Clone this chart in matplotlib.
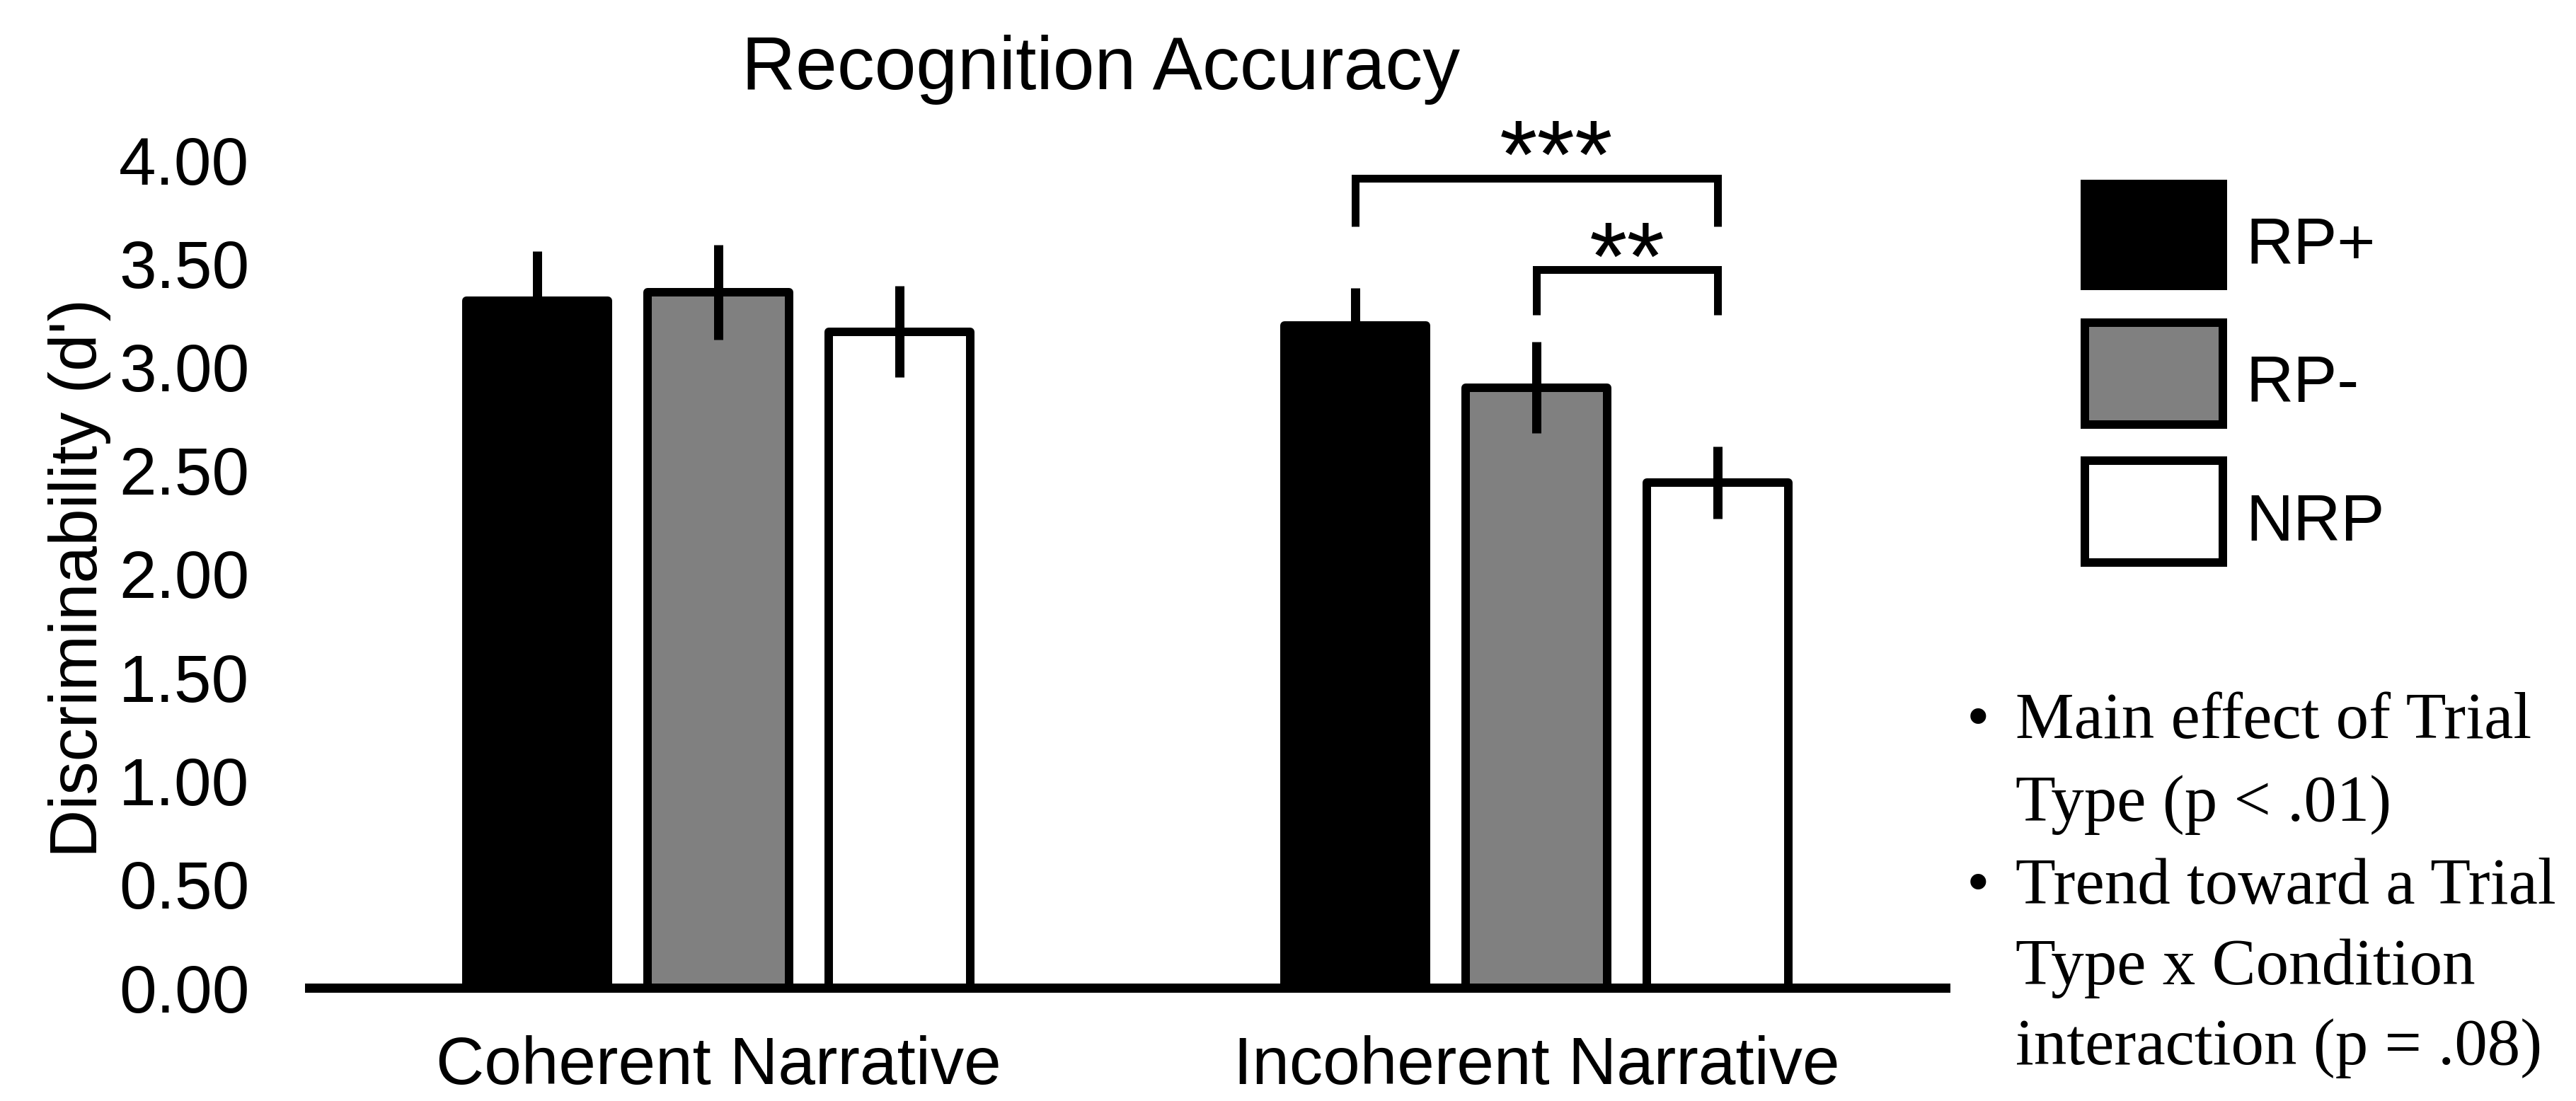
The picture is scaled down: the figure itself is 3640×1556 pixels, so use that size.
import matplotlib
matplotlib.use("Agg")
import matplotlib.pyplot as plt
import numpy as np

# ---------------- data ----------------
categories = ["Coherent Narrative", "Incoherent Narrative"]
series_names = ["RP+", "RP-", "NRP"]
rp_plus = [3.32, 3.20]
rp_minus = [3.36, 2.90]
nrp = [3.17, 2.44]
rp_plus_err = [0.24, 0.18]
rp_minus_err = [0.23, 0.22]
nrp_err = [0.22, 0.175]
series_colors = ["#000000", "#808080", "#ffffff"]

yticks = [0.0, 0.5, 1.0, 1.5, 2.0, 2.5, 3.0, 3.5, 4.0]
ytick_labels = ["0.00", "0.50", "1.00", "1.50", "2.00", "2.50", "3.00", "3.50", "4.00"]

title = "Recognition Accuracy"
ylabel = "Discriminability (d')"

# significance brackets (within the Incoherent group): series index pairs
sig_group = 1
sig_pairs = [(0, 2), (1, 2)]
sig_labels = ["***", "**"]
sig_tops = [3.91, 3.47]
sig_leg_bottoms = [3.68, 3.25]

notes_lines = [
    ("\u2022", "Main effect of Trial"),
    ("", "Type (p < .01)"),
    ("\u2022", "Trend toward a Trial"),
    ("", "Type x Condition"),
    ("", "interaction (p = .08)"),
]

# ---------------- figure ----------------
W, H, DPI = 3641, 1556, 100
fig = plt.figure(figsize=(W / DPI, H / DPI), dpi=DPI)
px2pt = 72.0 / DPI


def fx(px):
    return px / W


def fy(px):
    return 1 - px / H


ax = fig.add_axes([fx(437), fy(1396), fx(2749) - fx(437), fy(226) - fy(1396)])

sans = "Liberation Sans"
serif = "Liberation Serif"

x = np.arange(len(categories))
offsets = [-0.2215, 0.0, 0.2215]
bar_w = 0.173
edge_lw = 12 * px2pt

values = [rp_plus, rp_minus, nrp]
errors = [rp_plus_err, rp_minus_err, nrp_err]
handles = []
for i, (vals, errs, col) in enumerate(zip(values, errors, series_colors)):
    bc = ax.bar(x + offsets[i], vals, width=bar_w, color=col, edgecolor="black",
                linewidth=edge_lw, joinstyle="round", zorder=2, label=series_names[i])
    handles.append(bc)
    eb = ax.errorbar(x + offsets[i], vals, yerr=errs, fmt="none", ecolor="black",
                     elinewidth=13 * px2pt, capsize=0, zorder=3)
    for lc in eb.lines[2]:
        lc.set_capstyle("butt")

ax.set_xlim(-0.5, 1.5)
ax.set_ylim(0, 4.0)
ax.set_yticks(yticks)
ax.set_yticklabels(ytick_labels, fontsize=68, family=sans)
ax.set_xticks(x)
ax.set_xticklabels(categories, fontsize=68, family=sans)
ax.tick_params(axis="y", length=0, pad=61)
ax.tick_params(axis="x", length=0, pad=48)
for s in ["left", "top", "right"]:
    ax.spines[s].set_visible(False)
ax.spines["bottom"].set_linewidth(13 * px2pt)
ax.spines["bottom"].set_zorder(4)

# significance brackets
for (a, b), lab, top, bot in zip(sig_pairs, sig_labels, sig_tops, sig_leg_bottoms):
    xa = x[sig_group] + offsets[a]
    xb = x[sig_group] + offsets[b]
    ax.plot([xa, xa, xb, xb], [bot, top, top, bot], color="black", lw=11 * px2pt,
            solid_joinstyle="miter", solid_capstyle="butt", clip_on=False, zorder=5)
    shift = 0.024 if len(lab) == 3 else 0.0
    drop = 0.045 if len(lab) == 3 else 0.097
    ax.text((xa + xb) / 2 + shift, top - drop, lab,
            ha="center", va="baseline", fontsize=99, family=sans, zorder=5)

# title
fig.text(fx(1556), fy(126), title, ha="center", va="baseline", fontsize=76, family=sans)

# y label
fig.text(fx(113), fy(817), ylabel, rotation=90, ha="center", va="center",
         fontsize=68, family=sans)

# legend: handle geometry laid out with a larger layout font size,
# label texts then shown at 67 pt
patch_h_px = 144.0   # legend swatch height
desc_px = 31.0       # label baseline above swatch bottom
# matplotlib: swatch = fs*hh - desc ; desc = 0.35*fs*(hh-0.7)
fs_layout_px = (patch_h_px + desc_px - desc_px / 0.35) / 0.7
hh = (desc_px / 0.35 + 0.7 * fs_layout_px) / fs_layout_px
leg = ax.legend(handles, series_names, loc="upper left",
                bbox_to_anchor=(fx(2946), fy(260)), bbox_transform=fig.transFigure,
                frameon=False, borderpad=0, borderaxespad=0,
                handlelength=195 / fs_layout_px, handleheight=hh,
                labelspacing=(195.5 - patch_h_px) / fs_layout_px,
                handletextpad=32 / fs_layout_px,
                prop={"family": sans, "size": fs_layout_px * px2pt})
for t in leg.get_texts():
    t.set_fontsize(67)

# notes
baselines = [1043, 1160, 1277, 1391, 1504]
for (bul, txt), yb in zip(notes_lines, baselines):
    if bul:
        fig.text(fx(2779), fy(yb), bul, ha="left", va="baseline", fontsize=67, family=serif)
    fig.text(fx(2848), fy(yb), txt, ha="left", va="baseline", fontsize=67, family=serif)

fig.savefig("out.png", dpi=DPI)
